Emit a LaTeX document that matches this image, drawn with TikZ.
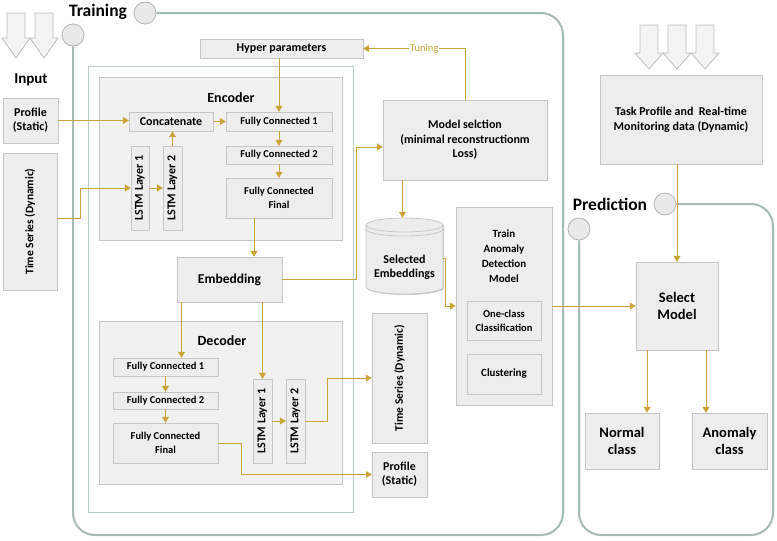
\documentclass[tikz,border=0pt]{standalone}
\usepackage{fontspec}
\setmainfont{Carlito}
\usepackage{graphicx}
\usetikzlibrary{arrows.meta,shadows}

\definecolor{gold}{HTML}{C9A43A}
\definecolor{boxfill}{HTML}{EDEDED}
\definecolor{boxline}{HTML}{C6C6C6}
\definecolor{panelfill}{HTML}{F1F1F1}
\definecolor{netline}{HTML}{BCCACA}
\definecolor{framecol}{HTML}{A7BAB6}
\definecolor{knobfill}{HTML}{E9E9E9}
\definecolor{knobline}{HTML}{B4B4B4}
\definecolor{arrowfill}{HTML}{F3F3F3}
\definecolor{arrowline}{HTML}{BDBDBD}

\tikzset{
  box/.style     = {draw=boxline, fill=boxfill, align=center, inner sep=1pt,
                    drop shadow={shadow xshift=1pt, shadow yshift=-1pt, fill=black, opacity=.2},
                    font=\bfseries\fontsize{12}{14}\selectfont},
  small/.style   = {font=\bfseries\fontsize{10.5}{14}\selectfont},
  bigbox/.style  = {box, font=\bfseries\fontsize{14.5}{17}\selectfont},
  panel/.style   = {draw=boxline, fill=panelfill,
                    drop shadow={shadow xshift=1pt, shadow yshift=-1pt, fill=black, opacity=.2}},
  net/.style     = {draw=netline, fill=white, line width=.8pt},
  heading/.style = {font=\bfseries\fontsize{14}{16}\selectfont},
  title/.style   = {font=\bfseries\fontsize{17.5}{20}\selectfont},
  flow/.style    = {draw=gold, line width=1pt, -{Triangle[width=7pt,length=6pt]}},
  tuning/.style  = {fill=white, inner sep=1pt, text=gold, font=\fontsize{10.5}{12}\selectfont},
  frame/.style   = {draw=framecol, line width=2pt, rounded corners=22pt},
  knob/.style    = {circle, draw=knobline, fill=knobfill, line width=.8pt,
                    minimum size=22pt, inner sep=0pt},
  bigarrow/.style= {draw=arrowline, fill=arrowfill, line width=.8pt, line join=round},
  drum/.style    = {draw=boxline, fill=boxfill, line width=.8pt,
                    drop shadow={shadow xshift=1pt, shadow yshift=-1pt, fill=black, opacity=.2}},
}

\begin{document}
\begin{tikzpicture}[x=1pt,y=-1pt]
\useasboundingbox (0,0) rectangle (777,541);

% frames
\node[knob] (tc1) at (145,13) {};
\node[knob] (tc2) at (73,35) {};
\draw[frame] (tc1.east) -- (563,13) -- (563,535) -- (73,535) -- (tc2.south);
\node[title] (training) at (98,12) {Training};

\node[knob] (pc1) at (665,204) {};
\node[knob] (pc2) at (579,229) {};
\draw[frame] (pc1.east) -- (773,204) -- (773,535) -- (579,535) -- (pc2.south);
\node[title] (prediction) at (610,204) {Prediction};

% input arrows
\foreach \cx in {16,44}
  \draw[bigarrow] (\cx-9,13) -- (\cx+9,13) -- (\cx+9,38) -- (\cx+14,38)
    -- (\cx,58) -- (\cx-14,38) -- (\cx-9,38) -- cycle;
\foreach \cx in {649,677,705}
  \draw[bigarrow] (\cx-9,25) -- (\cx+9,25) -- (\cx+9,53) -- (\cx+14,53)
    -- (\cx,69) -- (\cx-14,53) -- (\cx-9,53) -- cycle;

\node[heading, font=\bfseries\fontsize{15}{17}\selectfont] (input) at (31,80) {Input};
\node[box, minimum width=55pt, minimum height=45pt] (inprof) at (30.5,120.5) {Profile\\(Static)};
\node[box, minimum width=54pt, minimum height=137pt, font=\bfseries\fontsize{11.5}{14}\selectfont] (ints) at (30,221.5) {\rotatebox{90}{Time Series (Dynamic)}};

% network
\node[box, minimum width=163pt, minimum height=19pt] (hyper) at (281.5,48.5) {Hyper parameters};
\node[net, minimum width=265pt, minimum height=446pt] (netbox) at (220.5,289) {};

\node[panel, minimum width=243pt, minimum height=163pt] (encoder) at (220.5,158.5) {};
\node[heading] (enclbl) at (231,98) {Encoder};
\node[box, minimum width=84pt, minimum height=19pt] (concat) at (171,121.5) {Concatenate};
\node[box, small, minimum width=106pt, minimum height=19pt] (efc1) at (279,121.5) {Fully Connected 1};
\node[box, small, minimum width=106pt, minimum height=18pt] (efc2) at (279,155) {Fully Connected 2};
\node[box, small, minimum width=106pt, minimum height=40pt] (efcf) at (279,198) {Fully Connected\\Final};
\node[box, minimum width=18pt, minimum height=84pt] (elstm1) at (140,188) {\rotatebox{90}{LSTM Layer 1}};
\node[box, minimum width=19pt, minimum height=84pt] (elstm2) at (172.5,188) {\rotatebox{90}{LSTM Layer 2}};

\node[box, minimum width=105pt, minimum height=45pt, font=\bfseries\fontsize{13.5}{16}\selectfont] (emb) at (229.5,279.5) {Embedding};

\node[panel, minimum width=243pt, minimum height=163pt] (decoder) at (220.5,402.5) {};
\node[heading] (declbl) at (222,341) {Decoder};
\node[box, small, minimum width=105pt, minimum height=18pt] (dfc1) at (165.5,367) {Fully Connected 1};
\node[box, small, minimum width=105pt, minimum height=17pt] (dfc2) at (165.5,400.5) {Fully Connected 2};
\node[box, small, minimum width=105pt, minimum height=40pt] (dfcf) at (165.5,443) {Fully Connected\\Final};
\node[box, minimum width=19pt, minimum height=84pt] (dlstm1) at (262.5,421) {\rotatebox{90}{LSTM Layer 1}};
\node[box, minimum width=19pt, minimum height=84pt] (dlstm2) at (295.5,421) {\rotatebox{90}{LSTM Layer 2}};

\node[box, minimum width=55pt, minimum height=130pt, font=\bfseries\fontsize{11.5}{14}\selectfont] (outts) at (399.5,378) {\rotatebox{90}{Time Series (Dynamic)}};
\node[box, minimum width=55pt, minimum height=45pt] (outprof) at (399.5,474.5) {Profile\\(Static)};

% model selection and training
\node[box, minimum width=164pt, minimum height=80pt, font=\bfseries\fontsize{12}{14.5}\selectfont] (msel) at (465,140) {Model selction\\(minimal reconstructionm\\Loss)};
\draw[drum] (366,225) -- (366,287) arc[start angle=180, end angle=0, x radius=38.5, y radius=7]
  -- (443,225) arc[start angle=0, end angle=-180, x radius=38.5, y radius=7] -- cycle;
\draw[boxline, line width=.8pt] (366,225) arc[start angle=180, end angle=0, x radius=38.5, y radius=7];
\draw[boxline, line width=.8pt] (366,229) arc[start angle=180, end angle=0, x radius=38.5, y radius=7];
\node[minimum width=77pt, minimum height=76pt, inner sep=0pt] (cyl) at (404.5,256) {};
\node[font=\bfseries\fontsize{12}{14}\selectfont, align=center] (cyllbl) at (404.5,267) {Selected\\Embeddings};
\node[box, minimum width=96pt, minimum height=198pt] (train) at (504,306) {};
\node[font=\bfseries\fontsize{11}{15}\selectfont, align=center] (trainlbl) at (504,256.5) {Train\\Anomaly\\Detection\\Model};
\node[box, small, minimum width=74pt, minimum height=39pt] (oneclass) at (504,320.5) {One-class\\Classification};
\node[box, minimum width=74pt, minimum height=40pt, font=\bfseries\fontsize{11}{14}\selectfont] (cluster) at (504,374) {Clustering};

% prediction
\node[box, minimum width=162pt, minimum height=89pt, font=\bfseries\fontsize{12}{15}\selectfont] (task) at (681,119.5) {Task Profile and\ \ Real-time\\Monitoring data (Dynamic)};
\node[bigbox, minimum width=82pt, minimum height=88pt] (select) at (677,306) {Select\\Model};
\node[bigbox, minimum width=74pt, minimum height=56pt] (normal) at (622,441) {Normal\\class};
\node[bigbox, minimum width=75pt, minimum height=56pt] (anomaly) at (729.5,441) {Anomaly\\class};

% connectors
\draw[flow] (inprof.east) -- (inprof.east -| concat.west);
\draw[flow] ([yshift=3pt]ints.east) -- ++(23,0) |- (elstm1.west);
\draw[flow] (elstm1.east) -- (elstm2.west);
\draw[flow] (elstm2.north) -- (elstm2.north |- concat.south);
\draw[flow] (concat.east) -- (efc1.west);
\draw[flow] (efc1.north |- hyper.south) -- (efc1.north);
\draw[flow] (efc1.south) -- (efc2.north);
\draw[flow] (efc2.south) -- (efcf.north);
\draw[flow] ([xshift=-25pt]efcf.south) -- ([xshift=-25pt]efcf.south |- emb.north);
\draw[flow] (emb.east) -- ++(74,0) |- ([yshift=-7pt]msel.west);
\draw[flow] (msel.north) |- node[pos=.7, tuning] (tunelbl) {Tuning} (hyper.east);
\draw[flow] ([xshift=-2pt]cyl.north |- msel.south) -- ([xshift=-2pt]cyl.north);
\draw[flow] ([yshift=-2pt]cyl.east) -- ++(2,0) |- (train.west);
\draw[flow] ([xshift=-48pt]emb.south) -- ([xshift=-48pt]emb.south |- dfc1.north);
\draw[flow] (dlstm1.north |- emb.south) -- (dlstm1.north);
\draw[flow] (dfc1.south) -- (dfc2.north);
\draw[flow] (dfc2.south) -- (dfcf.north);
\draw[flow] (dlstm1.east) -- (dlstm2.west);
\draw[flow] (dlstm2.east) -- ++(22,0) |- (outts.west);
\draw[flow] (dfcf.east) -- ++(23,0) |- (outprof.west);
\draw[flow] (train.east) -- (select.west);
\draw[flow] (select.north |- task.south) -- (select.north);
\draw[flow] ([xshift=-30pt]select.south) -- ([xshift=-30pt]select.south |- normal.north);
\draw[flow] ([xshift=29pt]select.south) -- ([xshift=29pt]select.south |- anomaly.north);

\end{tikzpicture}
\end{document}
